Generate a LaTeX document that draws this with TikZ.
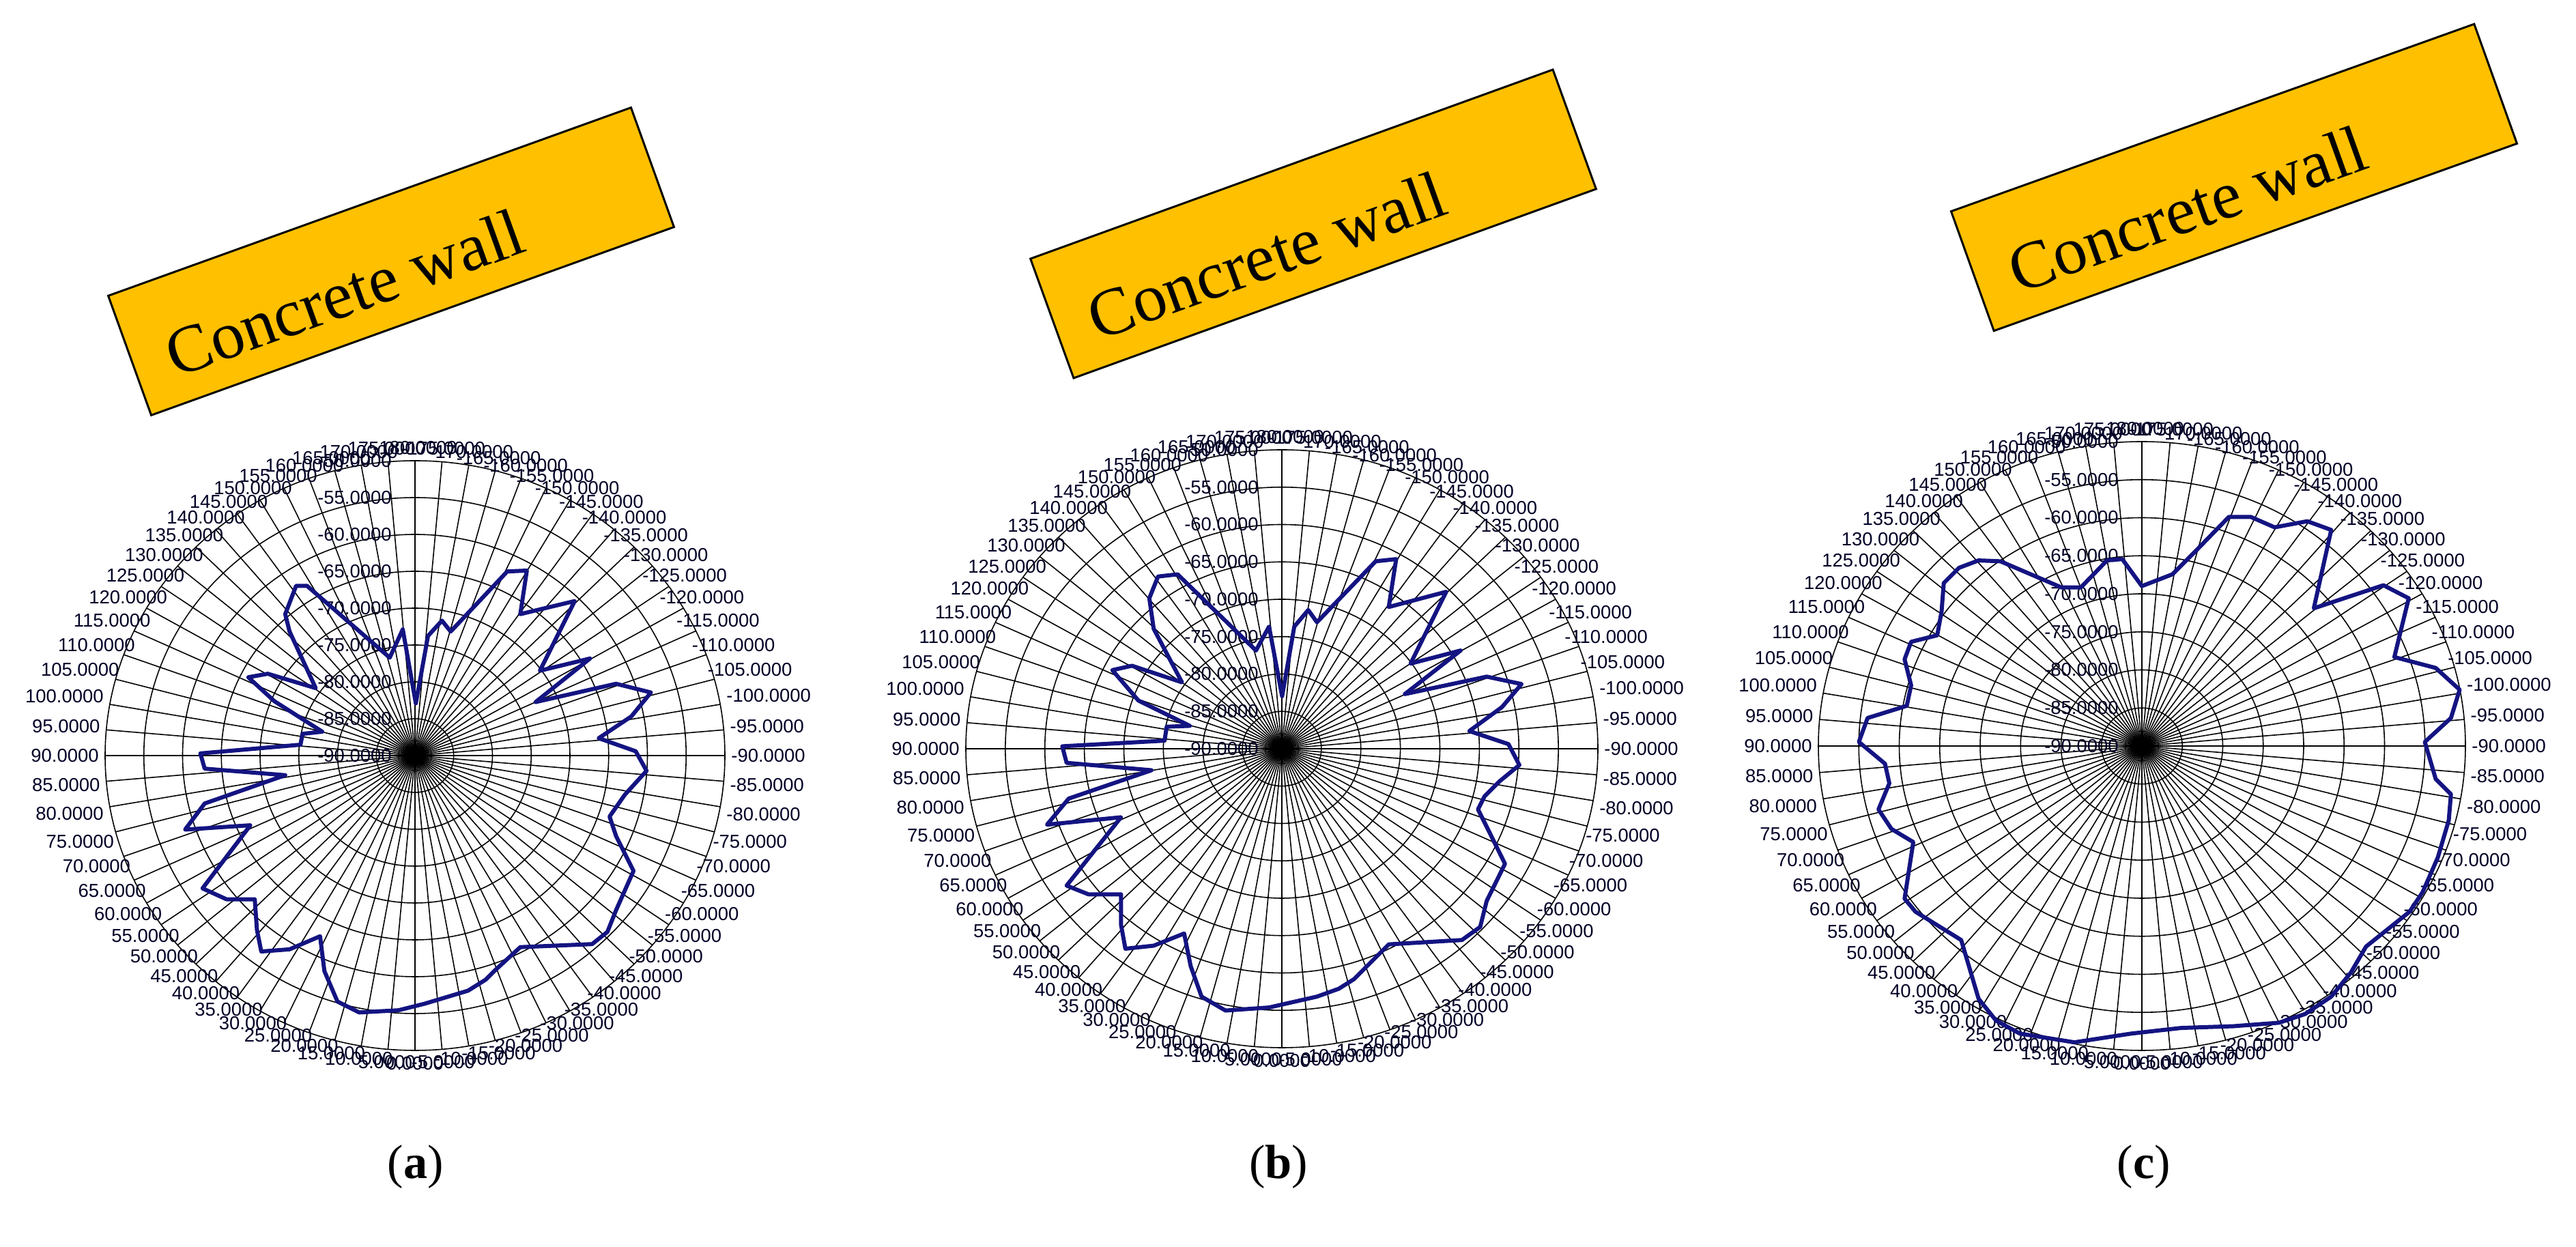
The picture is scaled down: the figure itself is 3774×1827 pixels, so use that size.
\documentclass[tikz,border=0pt]{standalone}
\usepackage{fontspec}
\setmainfont{Liberation Serif}
\newfontfamily\labfont{Liberation Sans}
\begin{document}
\begin{tikzpicture}[x=0.01cm,y=0.01cm,
  grid/.style={black,line width=0.45pt},
  lab/.style={font=\labfont\fontsize{7.8}{8}\selectfont,inner sep=0.5pt,text=black!85!blue},
  curve/.style={draw={rgb,255:red,20;green,20;blue,130},line width=1.7pt,line join=round},
  wall/.style={draw=black,line width=0.85pt,fill={rgb,255:red,255;green,192;blue,0}},
  walltext/.style={font=\fontsize{28}{30}\selectfont,inner sep=0pt},
  captxt/.style={font=\fontsize{20}{22}\selectfont}]
\useasboundingbox (0,0) rectangle (3774,1827);
\newcommand{\polargrid}[5]{%
 \begin{scope}[shift={(#1,#2)}]
  \foreach \k in {1,...,8} \draw[grid] (0,0) ellipse ({#3*\k/8} and {#4*\k/8});
  \foreach \a in {0,5,...,355} \draw[grid] (0,0) -- ({#3*cos(\a)},{#4*sin(\a)});
  \foreach \t [count=\i] in {-180,-175,...,175} {
    \pgfmathsetmacro\ph{-90-\t}
    \pgfmathsetmacro\an{mod(\ph+540,360)}
    \node[lab,anchor=\an] (#5a\i) at ({(#3+7)*cos(\ph)},{(#4+7)*sin(\ph)}) {\t.0000};}
  \foreach \k/\v in {0/-90,1/-85,2/-80,3/-75,4/-70,5/-65,6/-60,7/-55,8/-50}
    \node[lab,anchor=east] (#5r\k) at (-32,{#4*\k/8}) {\v.0000};
 \end{scope}}
% banners
\foreach \n/\cx/\cy/\ang in {A/573/1444/19.8,B/1924/1499/19.9,C/3273/1567/19.7}{
 \begin{scope}[shift={(\cx,\cy)},rotate=\ang]
  \draw[wall] (-407,-93) rectangle (407,93);
  \node[walltext,rotate=\ang] (wt\n) at (-80,-20) {Concrete wall};
 \end{scope}}
% grids
\polargrid{608}{720}{454}{432}{pa}
\polargrid{1878}{730}{463}{438}{pb}
\polargrid{3138}{734}{474}{446}{pc}
% curve a
\begin{scope}[shift={(150,1227)},xscale=0.6378,yscale=-0.6378]
\draw[curve] (720,675) -- (748,520) -- (780,485) -- (800,510) -- (930,372) -- (975,370) -- (960,470) -- (1085,440) -- (1005,600) -- (1120,572) -- (995,672) -- (1180,630) -- (1260,650) -- (1215,705) -- (1140,755) -- (1225,785) -- (1250,830) -- (1200,885) -- (1165,935) -- (1180,980) -- (1220,1060) -- (1180,1150) -- (1160,1200) -- (1125,1228) -- (960,1235) -- (900,1290) -- (880,1310) -- (840,1335) -- (740,1365) -- (680,1380) -- (590,1385) -- (540,1360) -- (510,1290) -- (500,1210) -- (430,1240) -- (365,1245) -- (355,1195) -- (350,1125) -- (285,1125) -- (230,1100) -- (340,955) -- (190,965) -- (235,905) -- (420,840) -- (235,825) -- (225,790) -- (455,770) -- (460,745) -- (505,740) -- (395,670) -- (335,615) -- (380,607) -- (490,640) -- (430,510) -- (420,470) -- (445,405) -- (470,405) -- (660,570) -- (690,505) -- cycle;
\end{scope}
% curve b
\begin{scope}[shift={(1400,1247)},xscale=0.6378,yscale=-0.6378]
\draw[curve] (750,690) -- (778,530) -- (810,492) -- (830,520) -- (965,380) -- (1012,375) -- (995,485) -- (1127,450) -- (1045,615) -- (1160,585) -- (1032,685) -- (1220,645) -- (1300,662) -- (1255,715) -- (1180,770) -- (1270,800) -- (1295,848) -- (1250,885) -- (1215,920) -- (1200,950) -- (1225,1000) -- (1262,1075) -- (1220,1160) -- (1205,1220) -- (1163,1250) -- (995,1260) -- (935,1320) -- (915,1340) -- (880,1362) -- (830,1380) -- (720,1405) -- (620,1412) -- (565,1380) -- (540,1310) -- (525,1235) -- (455,1263) -- (390,1270) -- (380,1215) -- (380,1145) -- (305,1145) -- (255,1125) -- (380,968) -- (210,985) -- (260,925) -- (450,860) -- (255,843) -- (245,805) -- (480,792) -- (485,760) -- (538,758) -- (420,700) -- (360,630) -- (405,620) -- (520,658) -- (455,535) -- (445,465) -- (465,415) -- (510,410) -- (690,585) -- (720,530) -- cycle;
\end{scope}
% curve c
\begin{scope}[shift={(2650,1247)},xscale=0.6378,yscale=-0.6378]
\draw[curve] (765,437) -- (835,410) -- (890,355) -- (965,278) -- (1015,278) -- (1070,302) -- (1145,288) -- (1200,308) -- (1160,488) -- (1320,435) -- (1378,465) -- (1345,600) -- (1440,625) -- (1495,675) -- (1475,740) -- (1415,795) -- (1440,880) -- (1475,915) -- (1470,975) -- (1445,1060) -- (1410,1140) -- (1380,1185) -- (1330,1225) -- (1280,1265) -- (1245,1325) -- (1200,1380) -- (1140,1420) -- (1080,1440) -- (975,1448) -- (855,1452) -- (740,1465) -- (610,1485) -- (485,1465) -- (430,1435) -- (390,1385) -- (350,1250) -- (245,1185) -- (220,1155) -- (240,1025) -- (190,995) -- (160,950) -- (185,890) -- (175,845) -- (115,795) -- (135,740) -- (225,712) -- (235,665) -- (220,605) -- (235,565) -- (295,550) -- (305,495) -- (310,430) -- (345,395) -- (390,378) -- (440,380) -- (510,410) -- (580,440) -- (625,440) -- (685,378) -- (720,375) -- cycle;
\end{scope}
% captions
\node[captxt] (capa) at (609,117) {(\textbf{a})};
\node[captxt] (capb) at (1873,117) {(\textbf{b})};
\node[captxt] (capc) at (3141,117) {(\textbf{c})};
\end{tikzpicture}
\end{document}
